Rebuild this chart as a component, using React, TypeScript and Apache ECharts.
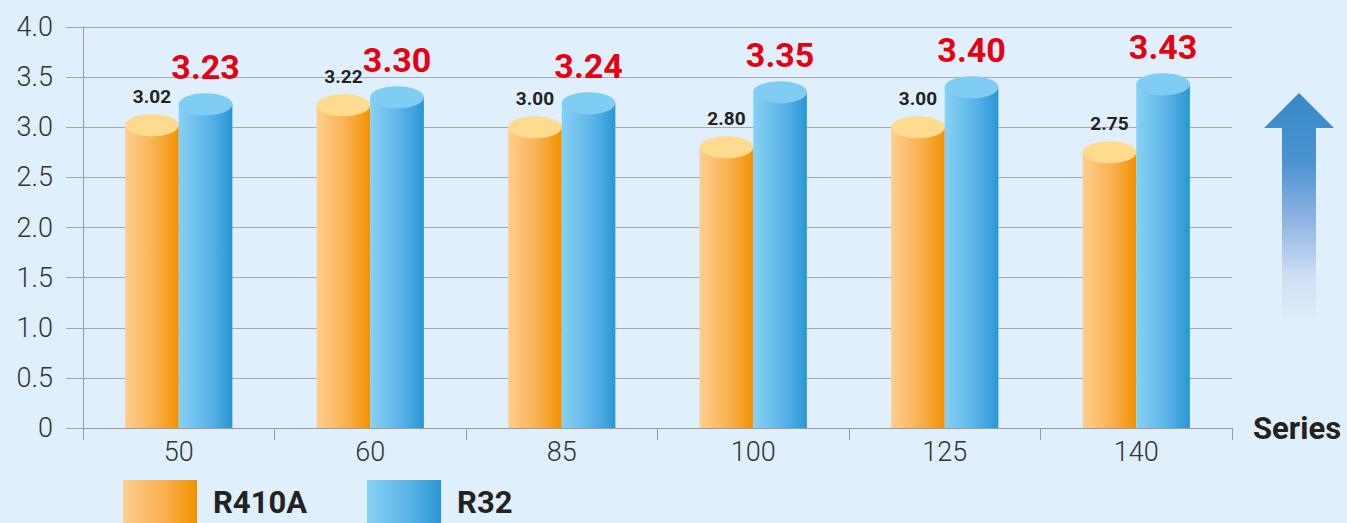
import React, { useEffect, useRef } from 'react';
import * as echarts from 'echarts';

const categories = ['50', '60', '85', '100', '125', '140'];
const r410aValues = [3.02, 3.22, 3.0, 2.8, 3.0, 2.75];
const r32Values = [3.23, 3.3, 3.24, 3.35, 3.4, 3.43];
const seriesNames = ['R410A', 'R32'];
const axisName = 'Series';

const FONT = 'Roboto, "Noto Sans", sans-serif';

const orangeGrad = () =>
  new echarts.graphic.LinearGradient(0, 0, 1, 0, [
    { offset: 0, color: '#fdce8f' },
    { offset: 0.55, color: '#f8b150' },
    { offset: 1, color: '#f39200' },
  ]);
const blueGrad = () =>
  new echarts.graphic.LinearGradient(0, 0, 1, 0, [
    { offset: 0, color: '#87d1f5' },
    { offset: 0.55, color: '#5db5e8' },
    { offset: 1, color: '#2a96d4' },
  ]);

function makeRender(side: number, topColor: string, labelStyle: any, labelGap: number) {
  return (params: any, api: any) => {
    const idx = api.value(0);
    const val = api.value(1);
    const top = api.coord([idx, val]);
    const base = api.coord([idx, 0]);
    const band = api.size([1, 0])[0];
    const bw = band * 0.28;
    const cx = top[0] + side * bw / 2;
    const ry = 11;
    return {
      type: 'group',
      children: [
        {
          type: 'rect',
          shape: { x: cx - bw / 2, y: top[1], width: bw, height: base[1] - top[1] },
          style: { fill: side < 0 ? orangeGrad() : blueGrad() },
        },
        {
          type: 'ellipse',
          shape: { cx, cy: top[1], rx: bw / 2, ry },
          style: { fill: topColor },
        },
        {
          type: 'text',
          x: cx,
          y: top[1] - ry - labelGap,
          style: {
            text: Number(val).toFixed(2),
            align: 'center',
            verticalAlign: 'bottom',
            fontFamily: FONT,
            ...labelStyle,
          },
        },
      ],
    };
  };
}

export default function App() {
  const ref = useRef<HTMLDivElement>(null);
  useEffect(() => {
    const chart = echarts.init(ref.current!, null, { renderer: 'svg' });
    const option: any = {
      animation: false,
      backgroundColor: '#dff0fc',
      grid: { left: 83, right: 115, top: 27, bottom: 95, containLabel: false },
      legend: {
        left: 123,
        top: 480,
        padding: 0,
        itemWidth: 74,
        itemHeight: 44,
        itemGap: 60,
        icon: 'rect',
        data: seriesNames,
        textStyle: {
          fontFamily: FONT,
          fontWeight: 'bold',
          fontSize: 31,
          lineHeight: 31,
          color: '#222',
          padding: [0, 0, 0, 11],
        },
      },
      xAxis: {
        type: 'category',
        data: categories,
        name: axisName,
        nameLocation: 'end',
        nameGap: 21,
        nameTextStyle: {
          fontFamily: FONT,
          fontWeight: 'bold',
          fontSize: 31,
          color: '#222',
          padding: [0, 0, 12, 0],
          verticalAlign: 'middle',
          lineHeight: 31,
        },
        axisLine: { show: true, lineStyle: { color: '#9a9a9a', width: 1 } },
        axisTick: { show: true, length: 12, lineStyle: { color: '#9a9a9a' } },
        axisLabel: {
          margin: 10,
          fontFamily: FONT,
          fontWeight: 300,
          fontSize: 27,
          color: '#333',
        },
      },
      yAxis: {
        type: 'value',
        min: 0,
        max: 4,
        interval: 0.5,
        axisLine: { show: true, lineStyle: { color: '#9a9a9a', width: 1 } },
        axisTick: { show: true, length: 17, lineStyle: { color: '#a5a5a5' } },
        splitLine: { show: true, lineStyle: { color: '#a8a8a8', width: 1 } },
        axisLabel: {
          margin: 30,
          fontFamily: FONT,
          fontWeight: 300,
          fontSize: 27,
          color: '#333',
          formatter: (v: number) => (v === 0 ? '0' : v.toFixed(1)),
        },
      },
      series: [
        {
          name: seriesNames[0],
          type: 'custom',
          itemStyle: { color: orangeGrad() },
          encode: { x: 0, y: 1 },
          data: r410aValues.map((v, i) => [i, v]),
          renderItem: makeRender(-1, '#fedb8f', { fontSize: 19, fontWeight: 'bold', fill: '#222' }, 8),
        },
        {
          name: seriesNames[1],
          type: 'custom',
          itemStyle: { color: blueGrad() },
          encode: { x: 0, y: 1 },
          data: r32Values.map((v, i) => [i, v]),
          renderItem: makeRender(1, '#80cdf4', { fontSize: 34, fontWeight: 'bold', fill: '#e60012' }, 9),
        },
      ],
      graphic: [
        {
          type: 'polygon',
          shape: {
            points: [
              [1299, 93],
              [1334, 128],
              [1316, 128],
              [1316, 322],
              [1282, 322],
              [1282, 128],
              [1264, 128],
            ],
          },
          style: {
            fill: new echarts.graphic.LinearGradient(0, 0, 0, 1, [
              { offset: 0, color: '#3887c8' },
              { offset: 0.3, color: '#4b93d0' },
              { offset: 0.55, color: '#8db3e2' },
              { offset: 0.8, color: '#cddff4' },
              { offset: 1, color: '#e2effb' },
            ]),
          },
        },
      ],
    };
    chart.setOption(option);
    return () => chart.dispose();
  }, []);
  return (
    <div
      ref={ref}
      style={{ position: 'fixed', left: 0, top: 0, width: 1347, height: 523, background: '#dff0fc' }}
    />
  );
}
